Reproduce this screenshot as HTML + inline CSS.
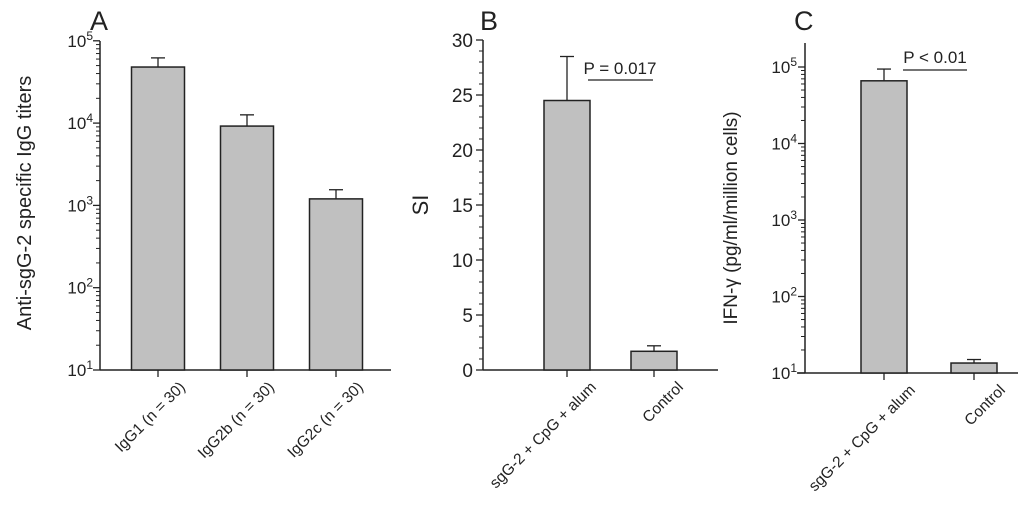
<!DOCTYPE html>
<html><head><meta charset="utf-8"><style>
html,body{margin:0;padding:0;background:#fff;width:1024px;height:515px;overflow:hidden}
svg{font-family:"Liberation Sans",sans-serif}
</style></head><body>
<svg id="fig" width="1024" height="515" viewBox="0 0 1024 515"></svg>
<script>
// Panel A data
const catsA = ["IgG1 (n = 30)", "IgG2b (n = 30)", "IgG2c (n = 30)"];
const valsA = [48000, 9200, 1200];
const errA = [62000, 12600, 1550];
// Panel B data
const catsB = ["sgG-2 + CpG + alum", "Control"];
const valsB = [24.5, 1.7];
const errB = [28.5, 2.2];
const ticksB = [0, 5, 10, 15, 20, 25, 30];
// Panel C data
const catsC = ["sgG-2 + CpG + alum", "Control"];
const valsC = [66000, 13.5];
const errC = [94000, 15];
const logTicks = [1, 2, 3, 4, 5];

const NS = "http://www.w3.org/2000/svg";
const svg = document.getElementById("fig");
function mk(tag, attrs, parent) {
  const e = document.createElementNS(NS, tag);
  for (const k in attrs) e.setAttribute(k, attrs[k]);
  (parent || svg).appendChild(e);
  return e;
}
const STK = "#222";

function panel(cfg) {
  const g = mk("g", {});
  
  
  const y = cfg.yScale;
  const ya = mk("line", {x1: cfg.ax, x2: cfg.ax, y1: cfg.axTop, y2: cfg.base, stroke: STK, "stroke-width": 1.5}, g);
  
  
  const xa = mk("line", {x1: cfg.axL, x2: cfg.axR, y1: cfg.base, y2: cfg.base, stroke: STK, "stroke-width": 1.5}, g);
  
  
  cfg.ticks(g);
  cfg.cats.forEach((c, i) => {
    const cx = cfg.xc[i], w = cfg.bw;
    const top = y(cfg.vals[i]), et = y(cfg.errs[i]);
    const eb = mk("line", {x1: cx, x2: cx, y1: et, y2: top, stroke: STK, "stroke-width": 1.3}, g);
    
    
    const ec = mk("line", {x1: cx - 7, x2: cx + 7, y1: et, y2: et, stroke: STK, "stroke-width": 1.3}, g);
    
    
    const r = mk("rect", {x: cx - w / 2, y: top, width: w, height: cfg.base - top, fill: "#c0c0c0", stroke: STK, "stroke-width": 1.5}, g);
    
    
    const tk = mk("line", {x1: cx, x2: cx, y1: cfg.base, y2: cfg.base + 7, stroke: STK, "stroke-width": 1.3}, g);
    
    
    const tx = cx + cfg.lblDx, ty = cfg.base + 18;
    const t = mk("text", {x: tx, y: ty, "font-size": 15.5, fill: "#222", "text-anchor": "end", transform: `rotate(-45 ${tx} ${ty})`}, g);
    t.textContent = c;
    
    
  });
  return g;
}

function logTicksFn(ax, y, labelX) {
  return function (g) {
    logTicks.forEach((p, idx) => {
      const yy = y(Math.pow(10, p));
      const l = mk("line", {x1: ax - 7, x2: ax, y1: yy, y2: yy, stroke: STK, "stroke-width": 1.3}, g);
      
      
      const t = mk("text", {x: labelX, y: yy + 6, "font-size": 17, fill: "#222", "text-anchor": "end"}, g);
      t.innerHTML = '10<tspan dy="-7" font-size="12">' + p + '</tspan>';
      
      
      if (idx < logTicks.length - 1) {
        for (let m = 2; m <= 9; m++) {
          const ym = y(m * Math.pow(10, p));
          const ml = mk("line", {x1: ax - 4, x2: ax, y1: ym, y2: ym, stroke: STK, "stroke-width": 1}, g);
          
          
        }
      }
    });
  };
}

function text(x, yy, s, size, name, extra) {
  const t = mk("text", Object.assign({x: x, y: yy, "font-size": size, fill: "#222"}, extra || {}));
  t.textContent = s;
  
  
  return t;
}

// Panel A
const yA = v => 370 - (Math.log10(v) - 1) * 82.3;
panel({name: "panel-a", yScale: yA, ax: 100, axTop: 41, base: 370, axL: 100, axR: 391,
  cats: catsA, vals: valsA, errs: errA, xc: [158, 247, 336], bw: 53, lblDx: 28,
  ticks: logTicksFn(100, yA, 93)});
text(90, 30, "A", 27, "panel-label-a");
text(0, 0, "Anti-sgG-2 specific IgG titers", 20, "y-axis-title-a", {"text-anchor": "middle", transform: "translate(31 203) rotate(-90)"});

// Panel B
const yB = v => 370 - v * 11;
panel({name: "panel-b", yScale: yB, ax: 483, axTop: 40, base: 370, axL: 483, axR: 718,
  cats: catsB, vals: valsB, errs: errB, xc: [567, 654], bw: 46, lblDx: 30,
  ticks: function (g) {
    for (let v = 0; v <= 30; v++) {
      const yy = yB(v), major = v % 5 === 0;
      const l = mk("line", {x1: major ? 476 : 479, x2: 483, y1: yy, y2: yy, stroke: STK, "stroke-width": major ? 1.3 : 1}, g);
      
      
    }
    ticksB.forEach(v => {
      const t = mk("text", {x: 473, y: yB(v) + 7, "font-size": 19, fill: "#222", "text-anchor": "end"}, g);
      t.textContent = v;
      
      
    });
  }});
text(480, 30, "B", 27, "panel-label-b");
text(0, 0, "SI", 22, "y-axis-title-b", {"text-anchor": "middle", transform: "translate(428 205) rotate(-90)"});
const pb = mk("line", {x1: 588, x2: 653, y1: 80, y2: 80, stroke: STK, "stroke-width": 1.3});


text(620, 74, "P = 0.017", 17, "p-value-b", {"text-anchor": "middle"});

// Panel C
const yC = v => 373 - (Math.log10(v) - 1) * 76.5;
panel({name: "panel-c", yScale: yC, ax: 805, axTop: 43, base: 373, axL: 797, axR: 1018,
  cats: catsC, vals: valsC, errs: errC, xc: [884, 974], bw: 46, lblDx: 32,
  ticks: logTicksFn(805, yC, 797)});
text(794, 30, "C", 27, "panel-label-c");
text(0, 0, "IFN-γ (pg/ml/million cells)", 19, "y-axis-title-c", {"text-anchor": "middle", transform: "translate(737 218) rotate(-90)"});
const pc = mk("line", {x1: 903, x2: 967, y1: 70, y2: 70, stroke: STK, "stroke-width": 1.3});


text(935, 63, "P < 0.01", 17, "p-value-c", {"text-anchor": "middle"});
</script>
</body></html>
